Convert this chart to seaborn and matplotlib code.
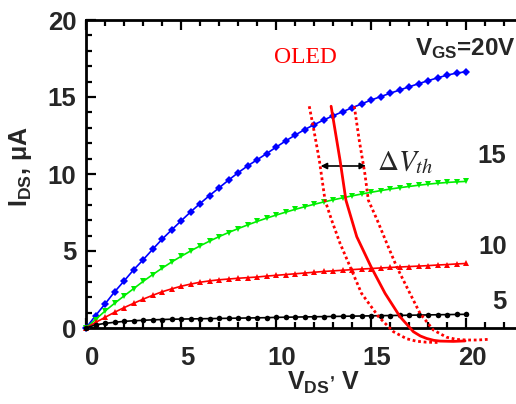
import numpy as np
import pandas as pd
import matplotlib
matplotlib.use("Agg")
import matplotlib.pyplot as plt
import matplotlib.transforms as mtransforms
from matplotlib.ticker import MultipleLocator
import seaborn as sns

# ---------------- data ----------------
vds = [0.0, 0.5, 1.0, 1.5, 2.0, 2.5, 3.0, 3.5, 4.0, 4.5, 5.0, 5.5, 6.0, 6.5, 7.0,
       7.5, 8.0, 8.5, 9.0, 9.5, 10.0, 10.5, 11.0, 11.5, 12.0, 12.5, 13.0, 13.5,
       14.0, 14.5, 15.0, 15.5, 16.0, 16.5, 17.0, 17.5, 18.0, 18.5, 19.0, 19.5, 20.0]

ids_20 = [0.00, 0.80, 1.56, 2.34, 3.05, 3.77, 4.42, 5.10, 5.76, 6.36, 6.95, 7.53,
          8.08, 8.60, 9.10, 9.60, 10.08, 10.52, 10.92, 11.32, 11.74, 12.14, 12.52,
          12.88, 13.20, 13.50, 13.78, 14.04, 14.30, 14.55, 14.80, 15.02, 15.24,
          15.45, 15.66, 15.86, 16.06, 16.24, 16.42, 16.55, 16.64]
ids_15 = [0.00, 0.55, 1.10, 1.60, 2.08, 2.55, 3.02, 3.46, 3.88, 4.28, 4.65, 5.00,
          5.33, 5.64, 5.93, 6.20, 6.45, 6.69, 6.92, 7.13, 7.33, 7.52, 7.70, 7.87,
          8.03, 8.18, 8.32, 8.45, 8.58, 8.70, 8.81, 8.92, 9.02, 9.11, 9.19, 9.27,
          9.34, 9.40, 9.45, 9.49, 9.52]
ids_10 = [0.00, 0.36, 0.69, 1.02, 1.32, 1.60, 1.87, 2.12, 2.35, 2.54, 2.71, 2.85,
          2.97, 3.06, 3.13, 3.18, 3.23, 3.27, 3.31, 3.37, 3.42, 3.47, 3.52, 3.57,
          3.62, 3.67, 3.71, 3.75, 3.79, 3.83, 3.86, 3.90, 3.93, 3.96, 3.99, 4.02,
          4.05, 4.09, 4.12, 4.16, 4.19]
ids_5 = [0.00, 0.20, 0.30, 0.37, 0.43, 0.47, 0.50, 0.53, 0.55, 0.57, 0.58, 0.59,
         0.60, 0.61, 0.62, 0.63, 0.64, 0.65, 0.66, 0.67, 0.69, 0.70, 0.71, 0.72,
         0.73, 0.74, 0.75, 0.76, 0.77, 0.78, 0.79, 0.80, 0.81, 0.82, 0.83, 0.84,
         0.85, 0.86, 0.87, 0.88, 0.89]

oled_v = [12.90, 13.37, 13.68, 14.25, 15.00, 15.74, 16.53, 17.23, 17.60, 17.93,
          18.30, 18.63, 19.33, 19.95]
oled_i = [14.40, 10.90, 8.30, 5.93, 3.98, 2.25, 0.73, -0.24, -0.52, -0.68,
          -0.80, -0.85, -0.87, -0.84]

oled_lo_v = [11.75, 11.96, 12.28, 12.58, 12.93, 13.37, 13.90, 14.50, 15.40, 16.18,
             16.88, 17.40, 17.90, 18.50]
oled_lo_i = [14.40, 13.07, 10.90, 8.30, 7.00, 5.50, 3.98, 2.25, 0.73, -0.24,
             -0.70, -0.86, -0.92, -0.94]

oled_hi_v = [14.12, 14.38, 14.68, 14.86, 15.33, 15.83, 16.35, 16.96, 17.58, 18.28,
             18.98, 19.50, 20.03, 20.60, 21.26]
oled_hi_i = [14.40, 12.20, 10.00, 8.30, 7.00, 5.50, 3.98, 2.47, 0.95, -0.13,
             -0.60, -0.74, -0.78, -0.78, -0.73]

vgs_labels = ["5", "10", "15"]

# ---------------- style ----------------
sns.set_theme(style="ticks")
plt.rcParams["font.family"] = ["Liberation Sans", "DejaVu Sans"]
plt.rcParams["mathtext.fontset"] = "custom"
plt.rcParams["mathtext.rm"] = "Liberation Sans:bold"
plt.rcParams["mathtext.bf"] = "Liberation Sans:bold"
plt.rcParams["mathtext.it"] = "Liberation Sans:bold"

fig = plt.figure(figsize=(5.16, 4.04), dpi=100)
ax = fig.add_axes([86 / 516, (404 - 328) / 404, 430 / 516, 308 / 404])

series = [
    (ids_20, "#0000ff", "D", 3.8),
    (ids_15, "#00ee00", "v", 5.0),
    (ids_10, "#ff0000", "^", 5.0),
    (ids_5, "#000000", "o", 4.0),
]
for vals, col, mk, ms in series:
    df = pd.DataFrame({"V": vds, "I": vals})
    sns.lineplot(data=df, x="V", y="I", ax=ax, color=col, marker=mk,
                 markersize=ms, markeredgewidth=0, linewidth=1.2,
                 estimator=None, sort=False, clip_on=False, zorder=3)

for xv, yv, ls, lw in [(oled_v, oled_i, "-", 2.0),
                       (oled_lo_v, oled_lo_i, (0, (1, 1)), 2.0),
                       (oled_hi_v, oled_hi_i, (0, (1, 1)), 2.0)]:
    df = pd.DataFrame({"V": xv, "I": yv})
    sns.lineplot(data=df, x="V", y="I", ax=ax, color="#ff0000", linestyle=ls,
                 linewidth=lw, estimator=None, sort=False, clip_on=False,
                 zorder=4)

ax.set_ylim(0, 20)
ax.xaxis.set_major_locator(MultipleLocator(5))
ax.xaxis.set_minor_locator(MultipleLocator(1))
ax.yaxis.set_major_locator(MultipleLocator(5))
ax.yaxis.set_minor_locator(MultipleLocator(1))
ax.set_xticks([0, 5, 10, 15, 20])
ax.set_xlim(0, 430 / 19)

for s in ["left", "bottom", "top"]:
    ax.spines[s].set_linewidth(2.0)
    ax.spines[s].set_color("black")
ax.spines["right"].set_visible(False)

ax.tick_params(which="both", direction="in", top=True, right=False,
               color="black", width=1.6)
ax.tick_params(which="major", length=7, labelsize=18.5, pad=13)
ax.tick_params(which="minor", length=4.5)
ax.tick_params(axis="y", which="major", pad=7)
for lab in ax.get_xticklabels() + ax.get_yticklabels():
    lab.set_fontweight("bold")
off = mtransforms.ScaledTranslation(6 / 100, 0, fig.dpi_scale_trans)
for lab in ax.get_xticklabels():
    lab.set_transform(lab.get_transform() + off)

ax.set_xlabel(r"V$_{\rm DS}$$^{,}$ V", fontsize=18, fontweight="bold")
ax.set_ylabel(r"I$_{\rm DS}$, μA", fontsize=18, fontweight="bold")
ax.xaxis.set_label_coords((324 - 86) / 430, -(370 - 328) / 308)
ax.yaxis.set_label_coords(-(86 - 34) / 430, (328 - 167) / 308)

# annotations
ax.text(9.89, 17.2, "OLED", color="#ff0000", fontsize=17,
        family=["Liberation Serif", "DejaVu Serif"], ha="left", va="baseline")
ax.text(17.3, 17.73, r"V$_{\rm GS}$=20V", fontsize=17.5, fontweight="bold",
        ha="left", va="baseline")
for lab, (xv, yv) in zip(vgs_labels, [(21.74, 1.69), (21.42, 5.26), (21.37, 11.17)]):
    ax.text(xv, yv, lab, fontsize=18.5, fontweight="bold", ha="center",
            va="center")
ax.text(15.3, 10.26, r"$\Delta V_{th}$", fontsize=21, math_fontfamily="stix",
        ha="left", va="baseline")
ax.annotate("", xy=(12.35, 10.52), xytext=(14.74, 10.52),
            arrowprops=dict(arrowstyle="<|-|>", color="black", lw=1.2,
                            mutation_scale=9, shrinkA=0, shrinkB=0))

fig.savefig("out.png", dpi=100)
